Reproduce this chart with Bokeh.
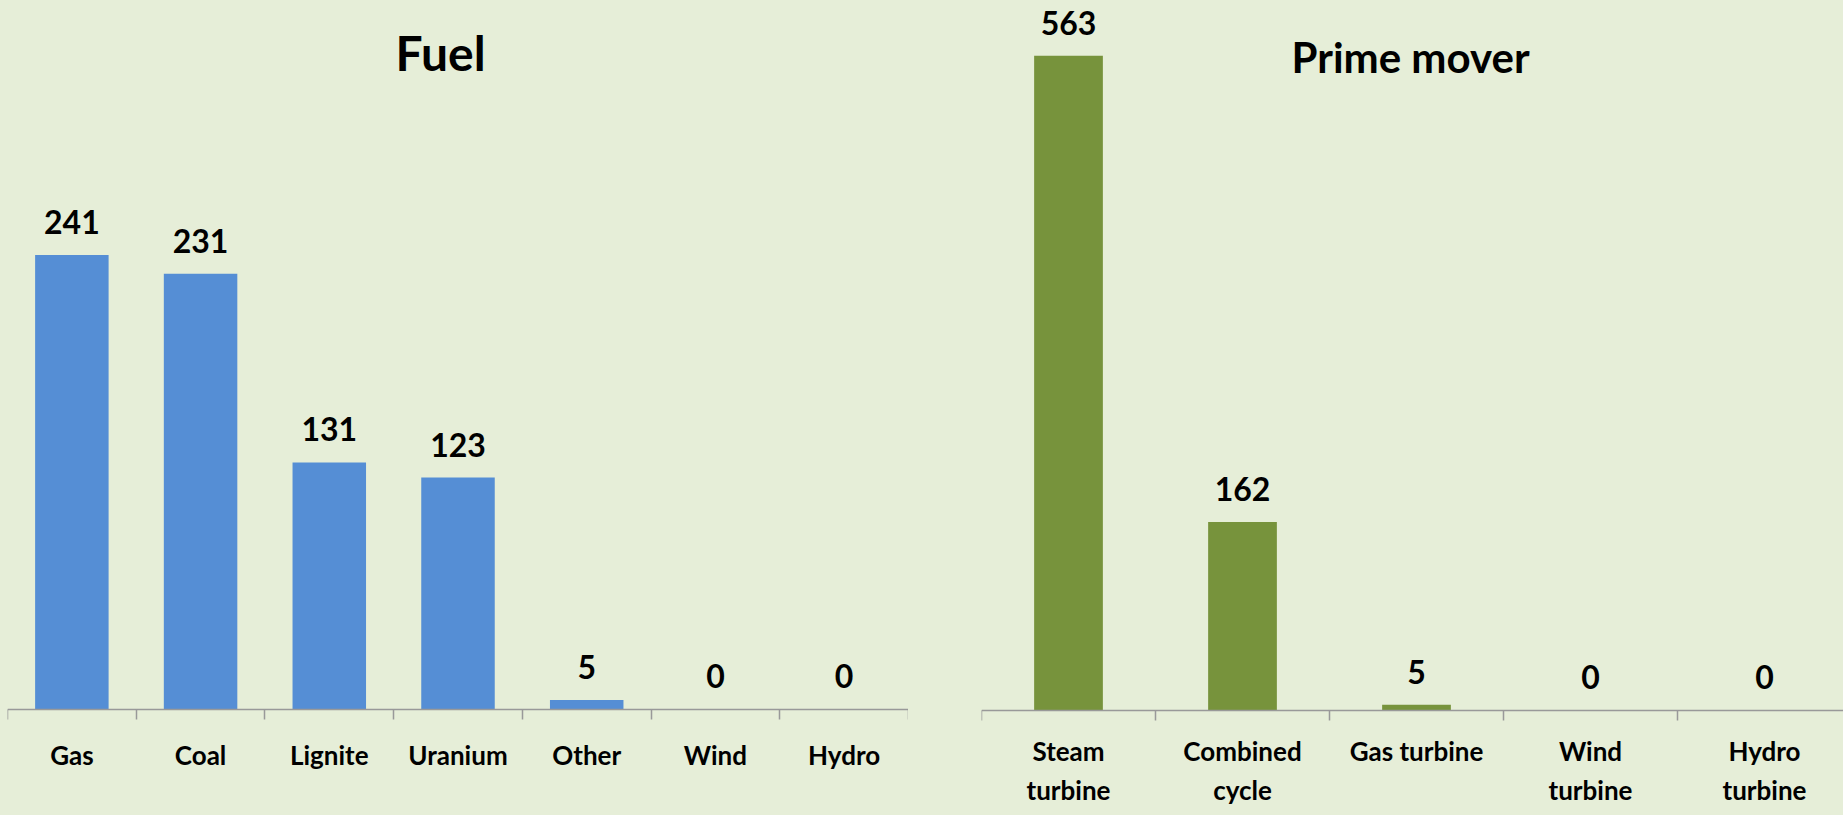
from bokeh.plotting import figure
from bokeh.layouts import row
from bokeh.models import Range1d, FixedTicker, Label, LinearAxis
from bokeh.core.properties import value
from bokeh.embed import file_html
from bokeh.resources import INLINE

# ---- data ----
fuel_categories = ["Gas", "Coal", "Lignite", "Uranium", "Other", "Wind", "Hydro"]
fuel_values = [241, 231, 131, 123, 5, 0, 0]

mover_categories = ["Steam\nturbine", "Combined\ncycle", "Gas turbine", "Wind\nturbine", "Hydro\nturbine"]
mover_values = [563, 162, 5, 0, 0]

BG = "#E6EED8"
FONT = "Lato"


def make_chart(cats, vals, color, bar_width, x_end, y_start, y_end, width, border_left,
               title, title_x, title_y, title_size, standoff):
    n = len(cats)
    centers = [i + 0.5 for i in range(n)]
    p = figure(width=width, height=815, output_backend="svg", toolbar_location=None,
               tools="", x_range=Range1d(0, x_end), y_range=Range1d(y_start, y_end),
               x_axis_location=None, y_axis_location=None,
               min_border_left=border_left, min_border_right=0,
               min_border_top=0, min_border_bottom=0)
    p.background_fill_color = BG
    p.border_fill_color = BG
    p.outline_line_color = None
    p.xgrid.visible = False
    p.ygrid.visible = False

    p.vbar(x=centers, top=vals, width=bar_width, bottom=0, fill_color=color, line_color=None)
    p.text(x=centers, y=vals, text=[str(v) for v in vals], text_align="center",
           text_baseline="alphabetic", y_offset=-33, text_font=value(FONT),
           text_font_style="bold", text_font_size="32px", text_color="black")

    ax = LinearAxis(fixed_location=0)
    ax.ticker = FixedTicker(ticks=centers, minor_ticks=list(range(n + 1)))
    ax.major_label_overrides = {c: lab for c, lab in zip(centers, cats)}
    ax.major_tick_line_color = None
    ax.major_tick_out = 0
    ax.major_tick_in = 0
    ax.minor_tick_line_color = "#999999"
    ax.minor_tick_line_width = 1.5
    ax.minor_tick_out = 10
    ax.minor_tick_in = 0
    ax.axis_line_color = "#999999"
    ax.axis_line_width = 1.5
    ax.major_label_standoff = standoff
    ax.major_label_text_font = FONT
    ax.major_label_text_font_style = "bold"
    ax.major_label_text_font_size = "26px"
    ax.major_label_text_color = "black"
    p.add_layout(ax, "below")

    p.add_layout(Label(x=title_x, y=title_y, text=title, text_align="center",
                       text_baseline="alphabetic", text_font=FONT, text_font_style="bold",
                       text_font_size=title_size, text_color="black"))
    return p


p1 = make_chart(fuel_categories, fuel_values, "#558ED5", 0.571, 7, -56.2, 375.9, 908, 7,
                "Fuel", 3.364, 348.4, "48px", 20)
p2 = make_chart(mover_categories, mover_values, "#77933C", 0.395, 4.954, -90.3, 610.5, 935, 73,
                "Prime mover", 2.466, 561.5, "42px", 15)

p = row(p1, p2)
p.styles = {"background-color": BG}
open("out.html", "w").write(file_html(p, INLINE))
